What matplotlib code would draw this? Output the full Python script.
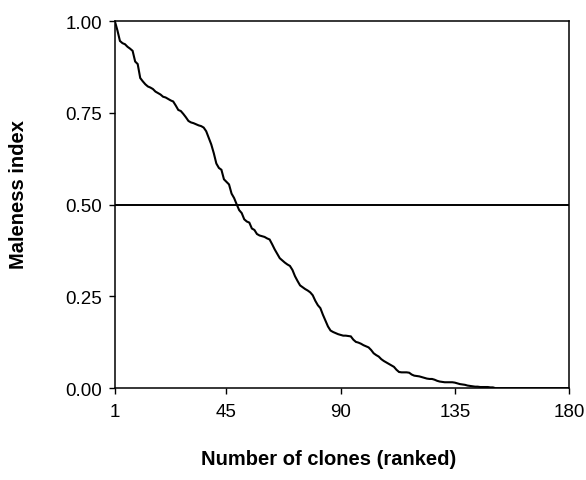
import numpy as np
import matplotlib
matplotlib.use("Agg")
import matplotlib.pyplot as plt

# maleness index of each clone, sorted from highest to lowest
maleness = [
    1.000, 0.975, 0.946, 0.940, 0.937, 0.930, 0.925, 0.919, 0.890, 0.883,
    0.845, 0.836, 0.828, 0.822, 0.819, 0.815, 0.808, 0.804, 0.800, 0.794,
    0.792, 0.788, 0.784, 0.781, 0.770, 0.758, 0.755, 0.747, 0.738, 0.728,
    0.724, 0.722, 0.719, 0.716, 0.714, 0.710, 0.700, 0.682, 0.664, 0.640,
    0.612, 0.600, 0.595, 0.569, 0.562, 0.555, 0.530, 0.518, 0.501, 0.485,
    0.477, 0.460, 0.454, 0.451, 0.435, 0.431, 0.420, 0.416, 0.414, 0.412,
    0.408, 0.405, 0.392, 0.378, 0.366, 0.354, 0.348, 0.342, 0.337, 0.333,
    0.322, 0.305, 0.292, 0.280, 0.275, 0.270, 0.266, 0.261, 0.253, 0.238,
    0.226, 0.218, 0.200, 0.184, 0.168, 0.157, 0.153, 0.150, 0.147, 0.145,
    0.143, 0.143, 0.142, 0.141, 0.132, 0.126, 0.124, 0.121, 0.117, 0.114,
    0.111, 0.104, 0.095, 0.090, 0.086, 0.079, 0.074, 0.070, 0.066, 0.062,
    0.058, 0.050, 0.044, 0.043, 0.043, 0.043, 0.042, 0.037, 0.034, 0.033,
    0.032, 0.030, 0.028, 0.026, 0.025, 0.025, 0.023, 0.020, 0.018, 0.017,
    0.016, 0.016, 0.016, 0.016, 0.015, 0.013, 0.011, 0.010, 0.009, 0.007,
    0.006, 0.005, 0.004, 0.004, 0.003, 0.003, 0.003, 0.003, 0.002, 0.002,
    0.000, 0.000, 0.000, 0.000, 0.000, 0.000, 0.000, 0.000, 0.000, 0.000,
    0.000, 0.000, 0.000, 0.000, 0.000, 0.000, 0.000, 0.000, 0.000, 0.000,
    0.000, 0.000, 0.000, 0.000, 0.000, 0.000, 0.000, 0.000, 0.000, 0.000,
]
ranks = np.arange(1, len(maleness) + 1)

threshold = 0.5
x_ticks = [1, 45, 90, 135, 180]
y_ticks = [0.0, 0.25, 0.5, 0.75, 1.0]

plt.rcParams['font.family'] = ['Liberation Sans', 'DejaVu Sans']

fig = plt.figure(figsize=(5.86, 4.81), dpi=100)
ax = fig.add_axes([0.196, 0.191, 0.775, 0.763])

ax.axhline(threshold, color='black', lw=1.4)
ax.plot(ranks, maleness, color='black', lw=1.5, solid_joinstyle='miter')

ax.set_xlim(1, 180)
ax.set_ylim(0, 1)
ax.set_xticks(x_ticks)
ax.set_yticks(y_ticks)
ax.set_yticklabels([f"{v:.2f}" for v in y_ticks])
ax.tick_params(direction='out', length=4, width=1, labelsize=13.5)
ax.tick_params(axis='x', pad=7)
ax.tick_params(axis='y', pad=5)

for sp in ax.spines.values():
    sp.set_linewidth(1.1)

ax.set_xlabel("Number of clones (ranked)", fontsize=14.5, fontweight='bold')
ax.set_ylabel("Maleness index", fontsize=14.5, fontweight='bold')
ax.xaxis.set_label_coords(0.47, -0.165)
ax.yaxis.set_label_coords(-0.192, 0.529)

fig.savefig("out.png", dpi=100)
